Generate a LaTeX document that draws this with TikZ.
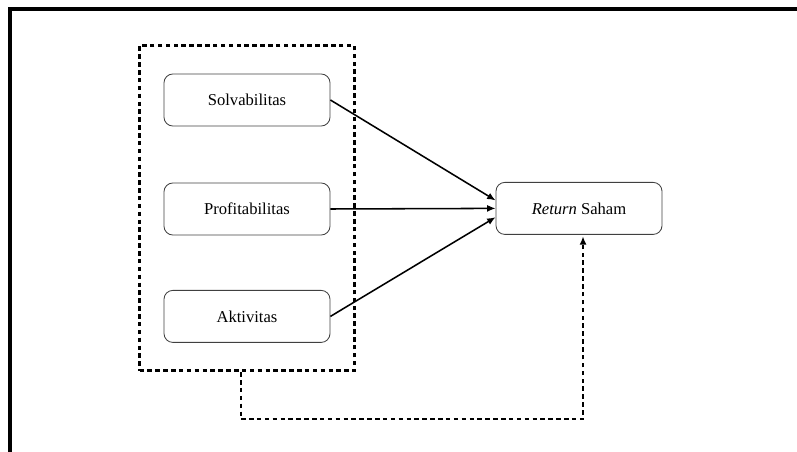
\documentclass[tikz,border=0pt]{standalone}
\usepackage{fontspec}
\setmainfont{Liberation Serif}
\usetikzlibrary{arrows.meta,fit}

\tikzset{
  varbox/.style={draw=black!75, line width=0.6pt, rounded corners=0.22cm,
    minimum width=4.15cm, minimum height=1.3cm, font=\fontsize{11.8}{13}\selectfont},
  dotline/.style={line width=1.9pt, dash pattern=on 3.2pt off 2.4pt},
  link/.style={line width=1.1pt, -{Latex[length=6pt,width=5pt]}}
}

\begin{document}
\begin{tikzpicture}
        \useasboundingbox (0,0) rectangle (19.925,-11.3);
        % Frame
        \draw[line width=2.2pt] (0.25,-11.4) -- (0.25,-0.225) -- (20.1,-0.225);

        % Variables
        \node[varbox] (solv) at (6.175,-2.5) {Solvabilitas};
        \node[varbox] (prof) at (6.175,-5.225) {Profitabilitas};
        \node[varbox] (akt) at (6.175,-7.91) {Aktivitas};
        \node[varbox] (ret) at (14.475,-5.21) {\textit{Return} Saham};

        % Dashed group
        \node[draw, dotline, fit=(solv)(akt), inner xsep=0.6cm, inner ysep=0.7cm] (grp) {};

        % Arrows
        \draw[link] (solv.east) -- ([yshift=0.2cm]ret.west);
        \draw[link] (prof.east) -- (ret.west);
        \draw[link] (akt.east) -- ([yshift=-0.22cm]ret.west);
        \draw[dotline, -{Latex[length=6pt,width=5pt]}, shorten >=1pt]
            ([xshift=-0.15cm]grp.south) -- ++(0,-1.175) -| ([xshift=0.1cm]ret.south);
    \end{tikzpicture}
\end{document}
